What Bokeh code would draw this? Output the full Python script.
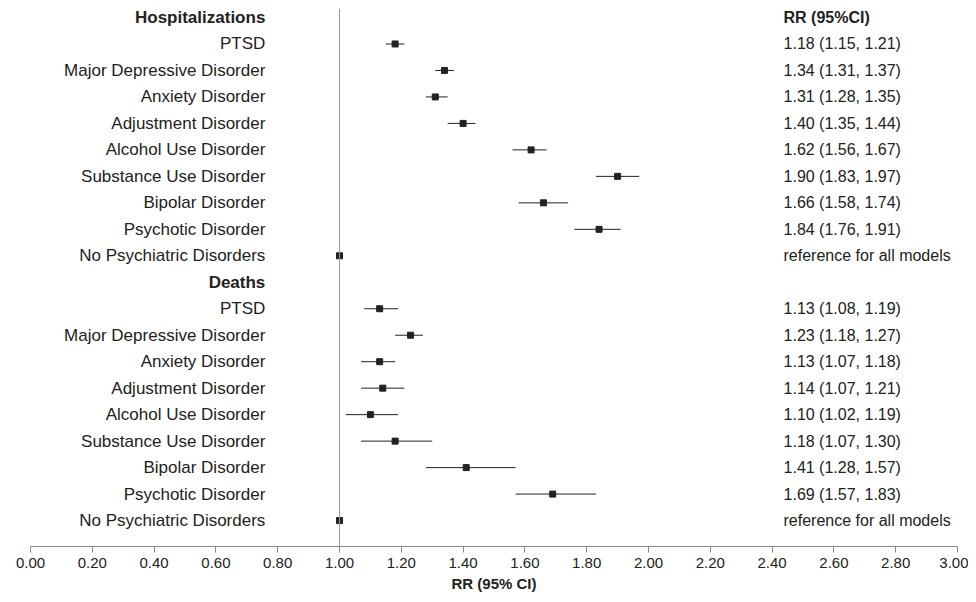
from bokeh.plotting import figure
from bokeh.models import Range1d, FixedTicker, ColumnDataSource, Span, LabelSet
from bokeh.core.properties import value
from bokeh.embed import file_html
from bokeh.resources import INLINE

disorders = ["PTSD", "Major Depressive Disorder", "Anxiety Disorder", "Adjustment Disorder",
             "Alcohol Use Disorder", "Substance Use Disorder", "Bipolar Disorder", "Psychotic Disorder",
             "No Psychiatric Disorders"]
hosp_rr = [1.18, 1.34, 1.31, 1.40, 1.62, 1.90, 1.66, 1.84, 1.00]
hosp_lo = [1.15, 1.31, 1.28, 1.35, 1.56, 1.83, 1.58, 1.76, 1.00]
hosp_hi = [1.21, 1.37, 1.35, 1.44, 1.67, 1.97, 1.74, 1.91, 1.00]
death_rr = [1.13, 1.23, 1.13, 1.14, 1.10, 1.18, 1.41, 1.69, 1.00]
death_lo = [1.08, 1.18, 1.07, 1.07, 1.02, 1.07, 1.28, 1.57, 1.00]
death_hi = [1.19, 1.27, 1.18, 1.21, 1.19, 1.30, 1.57, 1.83, 1.00]
x_ticks = [0.0, 0.2, 0.4, 0.6, 0.8, 1.0, 1.2, 1.4, 1.6, 1.8, 2.0, 2.2, 2.4, 2.6, 2.8, 3.0]

FONT = "Liberation Sans"
p = figure(width=968, height=594, output_backend="svg", toolbar_location=None,
           x_range=Range1d(0, 3), y_range=Range1d(-19.98, 0.34),
           min_border_left=30, min_border_right=11, min_border_top=8, min_border_bottom=46)
p.outline_line_color = None
p.grid.visible = False
p.yaxis.visible = False
p.xaxis.ticker = FixedTicker(ticks=x_ticks)
p.xaxis.major_label_overrides = {t: f"{t:.2f}" for t in x_ticks}
p.xaxis.minor_tick_line_color = None
p.xaxis.major_tick_in = 0
p.xaxis.major_tick_out = 6
p.xaxis.axis_line_color = "#888888"
p.xaxis.major_tick_line_color = "#888888"
p.xaxis.major_label_text_font = FONT
p.xaxis.major_label_text_font_size = "15px"
p.xaxis.major_label_text_color = "#222222"
p.xaxis.axis_label = "RR (95% CI)"
p.xaxis.axis_label_text_font = FONT
p.xaxis.axis_label_text_font_size = "15px"
p.xaxis.axis_label_text_font_style = "bold"
p.xaxis.axis_label_text_color = "#222222"
p.xaxis.axis_label_standoff = 4

p.add_layout(Span(location=1.0, dimension="height", line_color="#999999", line_width=1))

labels, ys, rr, lo, hi, rtxt = [], [], [], [], [], []
heads = []
for gi, (name, r, l, h) in enumerate([("Hospitalizations", hosp_rr, hosp_lo, hosp_hi),
                                      ("Deaths", death_rr, death_lo, death_hi)]):
    base = gi * 10
    heads.append((name, -base))
    for i, d in enumerate(disorders):
        y = -(base + 1 + i)
        labels.append(d); ys.append(y); rr.append(r[i]); lo.append(l[i]); hi.append(h[i])
        if d.startswith("No "):
            rtxt.append("reference for all models")
        else:
            rtxt.append(f"{r[i]:.2f} ({l[i]:.2f}, {h[i]:.2f})")

src = ColumnDataSource(dict(label=labels, y=ys, rr=rr, lo=lo, hi=hi, rt=rtxt,
                            lx=[0.76] * len(ys), rx=[2.437] * len(ys)))
p.segment(x0="lo", x1="hi", y0="y", y1="y", source=src, line_color="#222222", line_width=1)
p.scatter(x="rr", y="y", source=src, marker="square", size=6, color="#222222")

common = dict(text_font=value(FONT), text_color="#222222", text_baseline="middle")
p.add_layout(LabelSet(x="lx", y="y", text="label", source=src, text_align="right",
                      text_font_size="17px", **common))
p.add_layout(LabelSet(x="rx", y="y", text="rt", source=src, text_align="left",
                      text_font_size="16px", **common))
hsrc = ColumnDataSource(dict(x=[0.76, 0.76], y=[h[1] for h in heads], t=[h[0] for h in heads]))
p.add_layout(LabelSet(x="x", y="y", text="t", source=hsrc, text_align="right",
                      text_font_style="bold", text_font_size="17px", **common))
rsrc = ColumnDataSource(dict(x=[2.437], y=[0], t=["RR (95%CI)"]))
p.add_layout(LabelSet(x="x", y="y", text="t", source=rsrc, text_align="left",
                      text_font_style="bold", text_font_size="16px", **common))

open("out.html", "w").write(file_html(p, INLINE))
